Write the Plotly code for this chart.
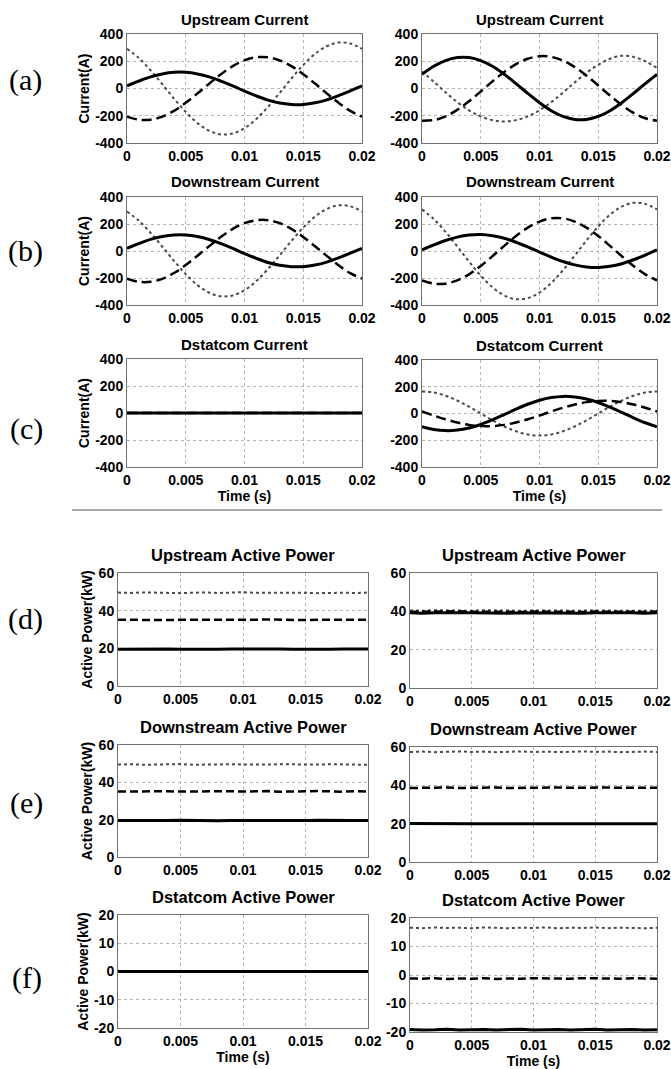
import plotly.graph_objects as go

# ---------------- data ----------------
T = [0, 0.001, 0.002, 0.003, 0.004, 0.005, 0.006, 0.007, 0.008, 0.009, 0.010,
     0.011, 0.012, 0.013, 0.014, 0.015, 0.016, 0.017, 0.018, 0.019, 0.020]

x_tickvals = [0, 0.005, 0.01, 0.015, 0.02]
x_ticktext = ["0", "0.005", "0.01", "0.015", "0.02"]
cur_ticks = [-400, -200, 0, 200, 400]
pow_ticks = [0, 20, 40, 60]
dst_pow_ticks = [-20, -10, 0, 10, 20]

# (a) Upstream current
a_l_solid = [19, 54, 85, 107, 119, 119, 107, 85, 54, 19, -19, -54, -85, -107, -117, -117, -105, -83, -52, -17, 19]
a_l_dashed = [-207, -229, -229, -207, -164, -105, -36, 36, 105, 164, 207, 229, 229, 207, 164, 105, 36, -36, -105, -164, -207]
a_l_dotted = [291, 224, 134, 32, -74, -172, -254, -310, -337, -330, -291, -224, -134, -32, 74, 172, 254, 310, 337, 330, 291]
a_r_solid = [104, 163, 205, 227, 227, 205, 163, 104, 36, -36, -104, -163, -205, -227, -227, -205, -163, -104, -36, 36, 104]
a_r_dashed = [-237, -232, -205, -157, -94, -22, 52, 121, 179, 218, 237, 232, 205, 157, 94, 22, -52, -121, -179, -218, -237]
a_r_dotted = [125, 50, -28, -100, -160, -205, -233, -242, -232, -205, -160, -100, -30, 45, 115, 175, 218, 240, 232, 200, 150]

# (b) Downstream current
b_l_solid = [20, 55, 86, 107, 119, 119, 107, 85, 54, 19, -19, -54, -85, -106, -116, -116, -104, -82, -51, -16, 20]
b_l_dashed = [-205, -228, -228, -206, -163, -104, -35, 36, 105, 164, 206, 228, 228, 206, 163, 104, 35, -36, -105, -164, -205]
b_l_dotted = [292, 225, 135, 33, -73, -171, -253, -309, -336, -329, -290, -223, -133, -31, 75, 173, 255, 311, 338, 331, 292]
b_r_solid = [8, 45, 78, 103, 118, 122, 113, 94, 65, 30, -8, -45, -78, -103, -118, -122, -113, -94, -65, -30, 8]
b_r_dashed = [-218, -242, -242, -218, -173, -111, -38, 38, 111, 173, 218, 242, 242, 218, 173, 111, 38, -38, -111, -173, -218]
b_r_dotted = [308, 237, 142, 34, -78, -182, -269, -329, -357, -349, -308, -237, -142, -34, 78, 182, 269, 329, 357, 349, 308]

# (c) Dstatcom current
c_l_solid = [0] * 21
c_l_dashed = [0] * 21
c_l_dotted = [0] * 21
c_r_solid = [-99, -119, -128, -124, -108, -82, -47, -8, 32, 69, 99, 119, 128, 124, 108, 82, 47, 8, -32, -69, -99]
c_r_dashed = [15, -15, -43, -67, -85, -94, -94, -85, -67, -43, -15, 15, 43, 67, 85, 94, 94, 85, 67, 43, 15]
c_r_dotted = [165, 157, 133, 97, 51, 0, -51, -97, -133, -157, -165, -157, -133, -97, -51, 0, 51, 97, 133, 157, 165]

# (d) Upstream active power
d_l_solid = [19.5, 19.6, 19.4, 19.5, 19.7, 19.5, 19.4, 19.6, 19.5, 19.7, 19.6, 19.4, 19.5, 19.6, 19.5, 19.4, 19.6, 19.5, 19.7, 19.5, 19.6]
d_l_dashed = [35.2, 35.1, 35.3, 35.2, 35.0, 35.2, 35.3, 35.1, 35.2, 35.2, 35.0, 35.2, 35.3, 35.1, 35.2, 35.0, 35.2, 35.3, 35.1, 35.2, 35.2]
d_l_dotted = [49.6, 49.4, 49.7, 49.5, 49.6, 49.3, 49.5, 49.7, 49.4, 49.6, 49.8, 49.5, 49.6, 49.4, 49.7, 49.5, 49.3, 49.6, 49.5, 49.4, 49.6]
d_r_solid = [39.2, 39.0, 39.3, 39.1, 39.2, 39.3, 39.1, 39.2, 39.0, 39.3, 39.2, 39.1, 39.3, 39.2, 39.0, 39.2, 39.3, 39.1, 39.2, 39.0, 39.2]
d_r_dashed = [39.8, 39.9, 39.7, 39.8, 40.0, 39.8, 39.7, 39.9, 39.8, 39.7, 39.9, 39.8, 40.0, 39.8, 39.7, 39.9, 39.8, 40.0, 39.8, 39.7, 39.9]
d_r_dotted = [40.5, 40.3, 40.6, 40.4, 40.5, 40.3, 40.6, 40.4, 40.5, 40.3, 40.4, 40.6, 40.5, 40.3, 40.4, 40.6, 40.5, 40.3, 40.4, 40.5, 40.3]

# (e) Downstream active power
e_l_solid = [19.6, 19.5, 19.4, 19.6, 19.5, 19.7, 19.5, 19.6, 19.4, 19.5, 19.7, 19.6, 19.5, 19.4, 19.6, 19.5, 19.7, 19.5, 19.6, 19.5, 19.6]
e_l_dashed = [35.1, 35.2, 35.0, 35.3, 35.2, 35.1, 35.2, 35.0, 35.3, 35.2, 35.1, 35.2, 35.3, 35.0, 35.2, 35.1, 35.3, 35.2, 35.0, 35.2, 35.1]
e_l_dotted = [49.5, 49.7, 49.4, 49.6, 49.5, 49.8, 49.4, 49.6, 49.5, 49.7, 49.6, 49.4, 49.5, 49.7, 49.6, 49.4, 49.5, 49.7, 49.5, 49.6, 49.4]
e_r_solid = [20.1, 20.0, 19.9, 20.1, 20.0, 19.9, 20.0, 20.1, 20.0, 19.9, 20.1, 20.0, 19.9, 20.0, 20.1, 20.0, 19.9, 20.1, 20.0, 19.9, 20.0]
e_r_dashed = [38.6, 38.8, 38.7, 38.9, 38.6, 38.8, 38.7, 38.9, 38.6, 38.7, 38.8, 38.6, 38.9, 38.7, 38.8, 38.6, 38.9, 38.7, 38.8, 38.6, 38.7]
e_r_dotted = [57.4, 57.6, 57.3, 57.5, 57.7, 57.4, 57.6, 57.3, 57.5, 57.7, 57.4, 57.6, 57.3, 57.5, 57.7, 57.4, 57.6, 57.3, 57.5, 57.6, 57.4]

# (f) Dstatcom active power
f_l_solid = [0] * 21
f_l_dashed = [0] * 21
f_l_dotted = [0] * 21
f_r_solid = [-19.1, -19.3, -19.2, -19.0, -19.3, -19.2, -19.1, -19.3, -19.2, -19.0, -19.3, -19.2, -19.1, -19.3, -19.2, -19.0, -19.3, -19.2, -19.1, -19.3, -19.2]
f_r_dashed = [-1.2, -1.3, -1.1, -1.4, -1.2, -1.3, -1.1, -1.4, -1.2, -1.3, -1.1, -1.2, -1.4, -1.3, -1.1, -1.2, -1.4, -1.3, -1.1, -1.2, -1.3]
f_r_dotted = [16.6, 16.4, 16.7, 16.5, 16.6, 16.4, 16.7, 16.5, 16.4, 16.6, 16.5, 16.7, 16.4, 16.6, 16.5, 16.7, 16.4, 16.6, 16.5, 16.4, 16.6]

titles = ["Upstream Current", "Upstream Current",
          "Downstream Current", "Downstream Current",
          "Dstatcom Current", "Dstatcom Current",
          "Upstream Active Power", "Upstream Active Power",
          "Downstream Active Power", "Downstream Active Power",
          "Dstatcom Active Power", "Dstatcom Active Power"]
row_labels = ["(a)", "(b)", "(c)", "(d)", "(e)", "(f)"]

series = [
    (a_l_solid, a_l_dashed, a_l_dotted), (a_r_solid, a_r_dashed, a_r_dotted),
    (b_l_solid, b_l_dashed, b_l_dotted), (b_r_solid, b_r_dashed, b_r_dotted),
    (c_l_solid, c_l_dashed, c_l_dotted), (c_r_solid, c_r_dashed, c_r_dotted),
    (d_l_solid, d_l_dashed, d_l_dotted), (d_r_solid, d_r_dashed, d_r_dotted),
    (e_l_solid, e_l_dashed, e_l_dotted), (e_r_solid, e_r_dashed, e_r_dotted),
    (f_l_solid, f_l_dashed, f_l_dotted), (f_r_solid, f_r_dashed, f_r_dotted),
]

# ---------------- layout geometry (page pixels) ----------------
W, H = 671, 1069


def px(x):
    return x / W


def py(y):
    return 1 - y / H


# (x0, x1, y_top, y_bottom)
boxes = [
    (127, 362, 34, 143), (422, 657, 34, 143),
    (127, 362, 197, 305), (422, 657, 197, 305),
    (127, 362, 359, 467), (422, 657, 360, 467),
    (118, 368, 573, 686), (410, 657, 573, 688),
    (118, 368, 745, 857), (410, 657, 747, 862),
    (118, 368, 915, 1028), (410, 657, 918, 1032),
]
label_pos = [(25, 80), (25, 251), (26, 429), (25, 619), (26, 803), (27, 978)]

fig = go.Figure()
TICKFONT = dict(family="Liberation Sans", size=14, color="black", weight="bold")
AXFONT = dict(family="Liberation Sans", size=14, color="black")

for i, ((x0, x1, yt, yb), (s, d, o)) in enumerate(zip(boxes, series)):
    n = i + 1
    xa = "x" if n == 1 else f"x{n}"
    ya = "y" if n == 1 else f"y{n}"
    is_power = i >= 6
    dash_pat = "8px,4px" if is_power else "10px,5px"
    shp = "linear" if is_power else "spline"
    fig.add_trace(go.Scatter(x=T, y=o, mode="lines", xaxis=xa, yaxis=ya,
                             line=dict(color="#4a4a4a", width=2, dash="dot", shape=shp)))
    fig.add_trace(go.Scatter(x=T, y=d, mode="lines", xaxis=xa, yaxis=ya,
                             line=dict(color="black", width=2.5, dash=dash_pat, shape=shp)))
    fig.add_trace(go.Scatter(x=T, y=s, mode="lines", xaxis=xa, yaxis=ya,
                             line=dict(color="black", width=3, shape=shp)))

    if i < 6:
        yr, yticks = [-400, 400], cur_ticks
    elif i < 10:
        yr, yticks = [0, 60], pow_ticks
    else:
        yr, yticks = [-20, 20], dst_pow_ticks

    xkey = "xaxis" if n == 1 else f"xaxis{n}"
    ykey = "yaxis" if n == 1 else f"yaxis{n}"
    common = dict(showline=True, linecolor="#707070", linewidth=1, mirror=True,
                  showgrid=True, gridcolor="#b5b5b5", griddash="dot", gridwidth=1,
                  zeroline=False, ticks="", tickfont=TICKFONT, automargin=False)
    xax = dict(common, domain=[px(x0), px(x1)], range=[0, 0.02],
               tickvals=x_tickvals, ticktext=x_ticktext, anchor=ya)
    if i in (4, 5, 10, 11):
        xax["title"] = dict(text="<b>Time (s)</b>", standoff=0, font=AXFONT)
    yax = dict(common, domain=[py(yb), py(yt)], range=yr,
               tickvals=yticks, ticktext=[str(v) for v in yticks], anchor=xa)
    if i % 2 == 0:
        ttl = "<b>Current(A)</b>" if i < 6 else "<b>Active Power(kW)</b>"
        yax["title"] = dict(text=ttl, standoff=2, font=AXFONT)
    fig.layout[xkey] = xax
    fig.layout[ykey] = yax

    fig.add_annotation(text=f"<b>{titles[i]}</b>", xref="paper", yref="paper",
                       x=px((x0 + x1) / 2), y=py(yt - (15 if i < 6 else 18)),
                       xanchor="center", yanchor="middle", showarrow=False,
                       font=dict(family="Liberation Sans", size=15 if i < 6 else 16.5,
                                 color="black"))

for lab, (lx, ly) in zip(row_labels, label_pos):
    fig.add_annotation(text=lab, xref="paper", yref="paper", x=px(lx), y=py(ly),
                       xanchor="center", yanchor="middle", showarrow=False,
                       font=dict(family="Liberation Serif", size=30, color="black"))

fig.add_shape(type="line", xref="paper", yref="paper",
              x0=px(72), x1=px(662), y0=py(510), y1=py(510),
              line=dict(color="#8a8a8a", width=1.5))

fig.update_layout(width=W, height=H, margin=dict(l=0, r=0, t=0, b=0),
                  paper_bgcolor="white", plot_bgcolor="white", showlegend=False)

# remove the default page margin so the figure sits at the window's corner
fig.write_html("out.html",
               config={"displayModeBar": False},
               post_script="document.body.style.margin='0';"
                           "document.body.style.overflow='hidden';")
